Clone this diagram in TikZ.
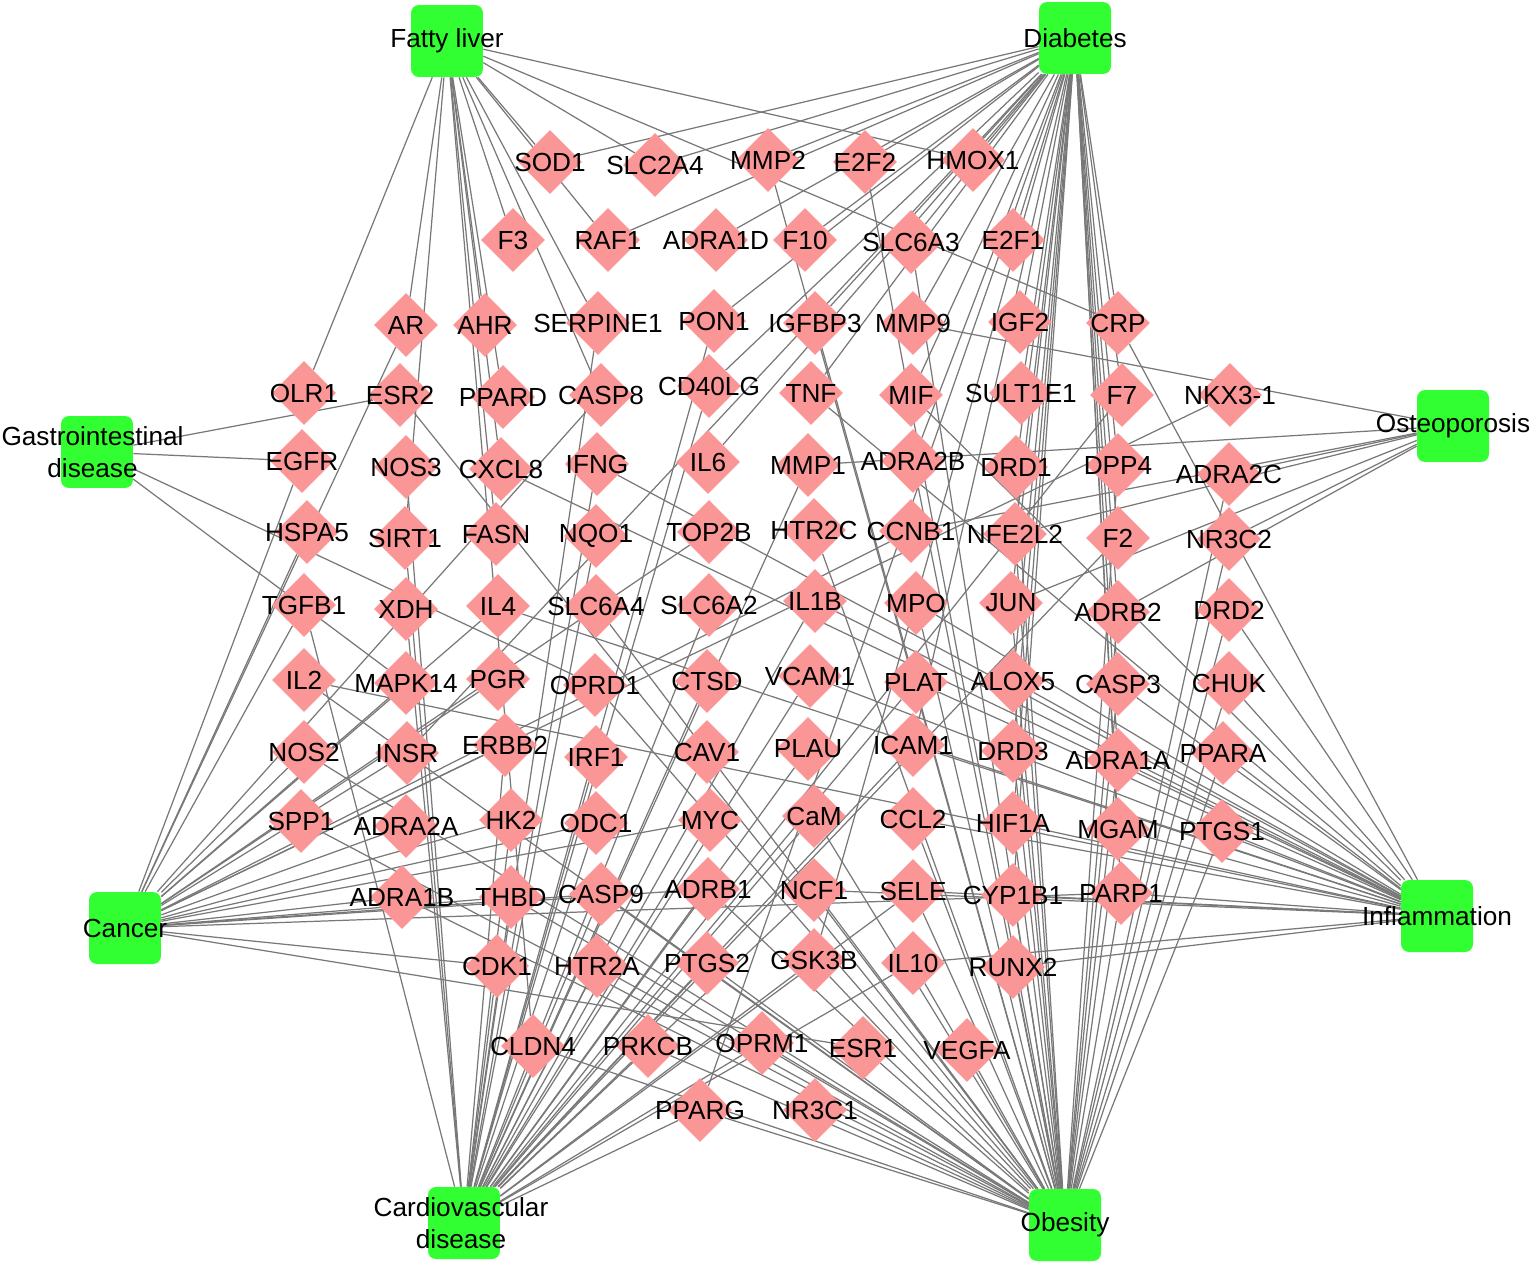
\documentclass[tikz,border=0pt]{standalone}
\usepackage{fontspec}
\setmainfont{Liberation Sans}
\usetikzlibrary{shapes.geometric}
\definecolor{dzgreen}{RGB}{50,255,50}
\definecolor{genepink}{RGB}{250,150,150}
\definecolor{linkgray}{RGB}{120,120,120}
\pgfdeclarelayer{bg}
\pgfsetlayers{bg,main}
\tikzset{disease/.style={rectangle, rounded corners=0.16cm, fill=dzgreen, minimum size=1.44cm, inner sep=0pt},
  gene/.style={diamond, fill=genepink, minimum width=1.28cm, minimum height=1.28cm, inner sep=0pt},
  tag/.style={font=\fontsize{14.9}{18.5}\selectfont, align=center, inner sep=0pt, text=black},
  link/.style={draw=linkgray, line width=0.7pt}}

\begin{document}
\begin{tikzpicture}[x=0.02cm,y=-0.02cm]
\useasboundingbox (0,0) rectangle (1535,1267);
% diseases
\node[disease, label={[tag]center:Fatty liver}] (FL) at (447,41) {};
\node[disease, label={[tag]center:Diabetes}] (DB) at (1075,38) {};
\node[disease, label={[tag,xshift=-0.09cm]center:{Gastrointestinal\\disease}}] (GI) at (97,452) {};
\node[disease, label={[tag]center:Osteoporosis}] (OS) at (1453,426) {};
\node[disease, label={[tag]center:Cancer}] (CA) at (125,928) {};
\node[disease, label={[tag]center:Inflammation}] (IN) at (1437,916) {};
\node[disease, label={[tag,xshift=-0.06cm]center:{Cardiovascular\\disease}}] (CV) at (464,1223) {};
\node[disease, label={[tag]center:Obesity}] (OB) at (1065,1225) {};
% targets
\foreach \n/\x/\y in {SOD1/550/162, SLC2A4/655/165, MMP2/768/160, E2F2/865/162, HMOX1/973/160,
  F3/513/240, RAF1/608/240, ADRA1D/716/240, F10/805/240, SLC6A3/911/242, E2F1/1013/240,
  AR/406/325, AHR/485/325, SERPINE1/598/323, PON1/714/321, IGFBP3/815/323, MMP9/913/323, IGF2/1020/322, CRP/1118/323,
  OLR1/304/393, ESR2/400/395, PPARD/503/397, CASP8/601/395, CD40LG/709/386, TNF/811/393, MIF/911/395, SULT1E1/1021/393, F7/1122/395,
  EGFR/302/461, NOS3/406/467, CXCL8/501/469, IFNG/597/464, IL6/708/462, MMP1/808/465, ADRA2B/913/461, DRD1/1016/467, DPP4/1118/465, ADRA2C/1229/474,
  HSPA5/307/532, SIRT1/405/538, FASN/496/534, NQO1/596/536, TOP2B/709/532, HTR2C/814/530, CCNB1/911/531, NFE2L2/1015/534, F2/1118/538, NR3C2/1229/539,
  TGFB1/304/605, XDH/406/609, IL4/498/606, SLC6A4/596/606, SLC6A2/709/605, IL1B/815/601, MPO/916/603, JUN/1011/603, ADRB2/1118/612, DRD2/1229/610,
  IL2/304/680, MAPK14/406/683, PGR/498/679, OPRD1/595/685, CTSD/707/681, VCAM1/810/676, PLAT/916/682, ALOX5/1013/681, CASP3/1118/684, CHUK/1229/683,
  NOS2/304/752, INSR/407/753, ERBB2/505/745, IRF1/596/757, CAV1/707/752, PLAU/808/749, ICAM1/913/745, DRD3/1013/751, ADRA1A/1118/760, PPARA/1223/753,
  SPP1/301/821, ADRA2A/406/826, HK2/511/820, ODC1/596/823, MYC/710/820, CaM/814/816, CCL2/913/819, HIF1A/1013/823, MGAM/1118/829, PTGS1/1222/831,
  ADRA1B/402/897, THBD/511/897, CASP9/601/894, ADRB1/708/889, NCF1/814/890, SELE/913/891, CYP1B1/1013/895, PARP1/1121/893,
  CDK1/497/966, HTR2A/597/966, PTGS2/707/963, GSK3B/814/960, IL10/913/963, RUNX2/1013/967,
  CLDN4/533/1046, PRKCB/648/1046, OPRM1/762/1043, ESR1/863/1048, VEGFA/967/1050,
  PPARG/700/1110, NR3C1/815/1110}
  \node[gene, label={[tag]center:\n}] (\n) at (\x,\y) {};
\node[gene, label={[tag]center:NKX3-1}] (NKX31) at (1230,395) {};
% links
\begin{pgfonlayer}{bg}
\foreach \g in {OLR1,AR,AHR,CXCL8,F3,SOD1,SLC2A4,RAF1,HMOX1,CRP,SERPINE1,PPARD,FASN,CLDN4,CASP8,SIRT1}
  \draw[link] (FL) -- (\g);
\foreach \g in {SOD1,SLC2A4,MMP2,E2F2,HMOX1,F10,SLC6A3,E2F1,IGF2,MMP9,IGFBP3,CRP,F7,SULT1E1,MIF,TNF,DRD1,DPP4,ADRA2B,NFE2L2,F2,JUN,ADRB2,ALOX5,CASP3,INSR,ICAM1,DRD3,HIF1A,PARP1,MGAM,CYP1B1,GSK3B,PPARG,ADRA1A,CD40LG,PON1,RAF1,ADRA1D,IL6}
  \draw[link] (DB) -- (\g);
\foreach \g in {ESR2,EGFR,OPRD1,MAPK14}
  \draw[link] (GI) -- (\g);
\foreach \g in {MMP9,MMP1,CCNB1,NFE2L2,ADRB2,JUN,NR3C2,ADRA2C}
  \draw[link] (OS) -- (\g);
\foreach \g in {HSPA5,MAPK14,IL4,PGR,ERBB2,INSR,ADRA2A,HK2,ODC1,NKX31,TOP2B,CCNB1,MYC,ADRA1B,THBD,CASP9,ADRB1,PARP1,CDK1,ESR1,EGFR,AR,CASP8,NOS2,TGFB1}
  \draw[link] (CA) -- (\g);
\foreach \g in {DRD2,CHUK,PPARA,ADRA1A,CASP3,ALOX5,PTGS1,MGAM,HIF1A,PARP1,CYP1B1,SELE,CCL2,ICAM1,IL10,RUNX2,NCF1,IL1B,MPO,PLAT,VCAM1,TNF,MIF,CXCL8,IFNG,IL4,IL2,CRP}
  \draw[link] (IN) -- (\g);
\foreach \g in {NOS3,SIRT1,XDH,CDK1,HTR2A,PTGS2,PRKCB,PPARG,OPRM1,CASP9,ADRB1,THBD,HK2,ODC1,MYC,CaM,NCF1,SELE,GSK3B,IL10,CAV1,PLAU,ICAM1,VCAM1,PLAT,IL1B,SLC6A2,NQO1,CTSD,IRF1,ERBB2,SERPINE1,PON1,CD40LG,F7,MMP1,F2,TGFB1,IFNG}
  \draw[link] (CV) -- (\g);
\foreach \g in {CLDN4,PRKCB,OPRM1,ESR1,VEGFA,NR3C1,PPARG,HTR2A,PTGS2,GSK3B,IL10,RUNX2,SELE,NCF1,CYP1B1,ADRB1,CASP9,THBD,SPP1,ADRA1B,NOS2,IL2,CaM,CCL2,HIF1A,PARP1,MGAM,PTGS1,PPARA,ADRA1A,CHUK,CASP3,DRD2,NR3C2,ADRA2C,ALOX5,JUN,DRD3,MPO,NFE2L2,HTR2C,ADRB2,DPP4,SLC6A4,SLC6A3,IGFBP3,ADRA2B,DRD1,ESR2,OPRD1,E2F2,MMP2}
  \draw[link] (OB) -- (\g);
\end{pgfonlayer}
\end{tikzpicture}
\end{document}
